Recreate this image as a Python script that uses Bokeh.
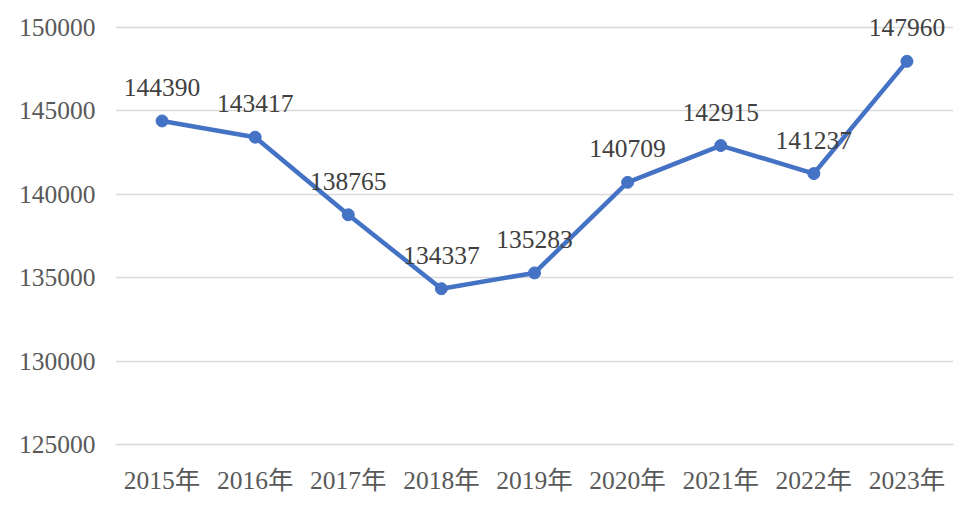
from bokeh.plotting import figure
from bokeh.models import ColumnDataSource, FixedTicker, NumeralTickFormatter, Range1d, LabelSet
from bokeh.embed import file_html
from bokeh.resources import INLINE
from bokeh.core.properties import value

years = ["2015年", "2016年", "2017年", "2018年", "2019年", "2020年", "2021年", "2022年", "2023年"]
counts = [144390, 143417, 138765, 134337, 135283, 140709, 142915, 141237, 147960]
y_ticks = [125000, 130000, 135000, 140000, 145000, 150000]

FONT = "'Liberation Serif', 'Noto Sans CJK SC', serif"
GREY = "#595959"
BLUE = "#4472C4"

src = ColumnDataSource(dict(x=years, y=counts, lbl=[str(v) for v in counts]))

# frame top raised by 25px above the 150000 gridline so top label is not clipped
y_top = 150000 + 25 * 5000 / 84
p = figure(x_range=years, y_range=Range1d(125000, y_top), width=964, height=497,
           output_backend="svg", toolbar_location=None,
           min_border_left=115, min_border_right=11, min_border_top=2, min_border_bottom=50)
p.outline_line_color = None
p.background_fill_color = "white"
p.border_fill_color = "white"

p.line("x", "y", source=src, line_color=BLUE, line_width=4.5)
p.scatter("x", "y", source=src, size=12, fill_color=BLUE, line_color=BLUE)
labels = LabelSet(x="x", y="y", text="lbl", source=src, text_align="center",
                  text_baseline="alphabetic", y_offset=25,
                  text_font=value(FONT), text_font_size=value("25.5px"),
                  text_color="#404040")
p.add_layout(labels)

p.xgrid.grid_line_color = None
p.ygrid.grid_line_color = "#d9d9d9"
p.ygrid.grid_line_width = 1.5
p.yaxis.ticker = FixedTicker(ticks=y_ticks)
p.yaxis.formatter = NumeralTickFormatter(format="0")
for ax in (p.xaxis, p.yaxis):
    ax.axis_line_color = None
    ax.major_tick_line_color = None
    ax.minor_tick_line_color = None
    ax.major_label_text_font = FONT
    ax.major_label_text_font_size = "25.5px"
    ax.major_label_text_color = GREY
p.xaxis.axis_line_color = "#d9d9d9"
p.xaxis.axis_line_width = 1.5
p.xaxis.major_label_standoff = 15
p.yaxis.major_label_standoff = 14

open("out.html", "w").write(file_html(p, INLINE))
